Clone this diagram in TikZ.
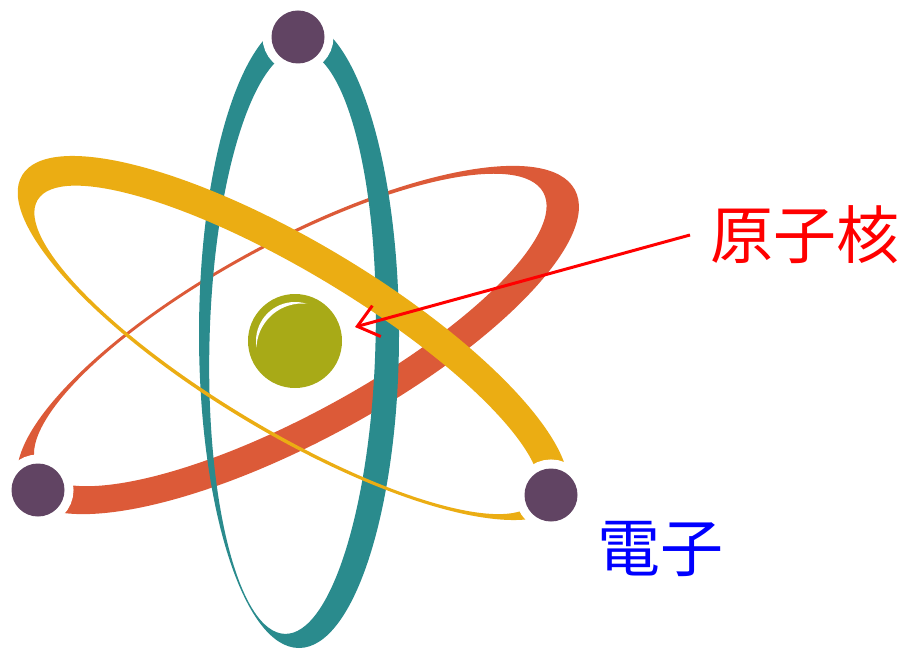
\documentclass[tikz,border=0pt]{standalone}
\usepackage{fontspec}
\newfontfamily\jpfont{Noto Sans CJK JP}
\usetikzlibrary{arrows.meta}

\definecolor{tealorbit}{HTML}{2A8B8D}
\definecolor{goldorbit}{HTML}{EBAD13}
\definecolor{redorbit}{HTML}{DC5A38}
\definecolor{electroncol}{HTML}{614463}
\definecolor{nucleuscol}{HTML}{A8AA17}

\tikzset{
  orbit/.style={fill=#1, even odd rule},
  electron/.style={circle, inner sep=0pt, minimum size=53pt, fill=electroncol,
    preaction={draw=white, line width=18pt}},
  bigtext/.style={font=\jpfont\fontsize{63}{63}\selectfont, text=#1}
}

\begin{document}
\begin{tikzpicture}[x=1pt, y=1pt]
\useasboundingbox (0,0) rectangle (904,649);

% orbits, back to front
\begin{scope}[shift={(298,309)}, rotate=28.5]
  \fill[orbit=redorbit] (0,0) ellipse [x radius=315, y radius=100]
    (-2,12.5) ellipse [x radius=288, y radius=84.5];
\end{scope}
\fill[orbit=tealorbit] (299,315) ellipse [x radius=100, y radius=314]
  (292.5,307) ellipse [x radius=83, y radius=292, rotate=-1.5];
\begin{scope}[shift={(293,311)}, rotate=-31]
  \fill[orbit=goldorbit] (0,0) ellipse [x radius=316, y radius=95]
    (1,-13.25) ellipse [x radius=291, y radius=78.25];
\end{scope}

% nucleus with its highlight
\node[circle, inner sep=0pt, minimum size=94pt, fill=nucleuscol] (nucleus) at (295,308) {};
\begin{scope}[shift={(nucleus.center)}]
  \clip (0,0) circle (39);
  \fill[white, even odd rule] (0,0) circle (60) (311:11) circle (45.8);
\end{scope}

% electrons
\node[electron] (etop) at (298,612) {};
\node[electron] (eleft) at (38,159) {};
\node[electron] (eright) at (551,154) {};

% labels
\node[bigtext=red, anchor=west, inner xsep=20pt, inner ysep=0pt] (nuclabel) at (690,414) {原子核};
\node[bigtext=blue] (elabel) at (660,100) {電子};
\coordinate (tip) at (355,322);
\draw[red, line width=3pt, -{Straight Barb[length=20pt, width=32pt]}] (nuclabel.west) -- (tip);
\end{tikzpicture}
\end{document}
